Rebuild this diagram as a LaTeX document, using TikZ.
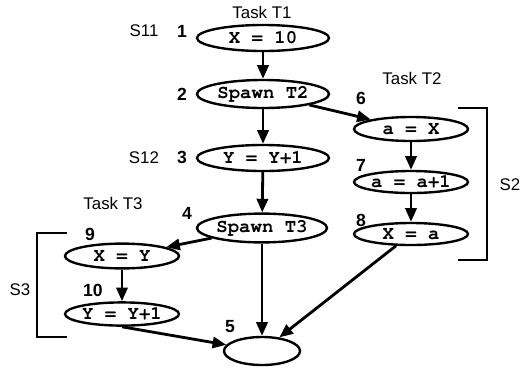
\documentclass[tikz,border=0pt]{standalone}
\usepackage{fontspec}
\setmainfont{Liberation Sans}
\setmonofont{TeX Gyre Cursor}
\usetikzlibrary{shapes.geometric,arrows.meta}
\begin{document}
\begin{tikzpicture}[
    x=0.025cm, y=-0.025cm,
    stmt/.style={ellipse, draw, line width=1.7pt, inner sep=0pt, minimum width=2.85cm, minimum height=0.6cm, font=\fontsize{13.5}{13.5}\selectfont\ttfamily\bfseries},
    num/.style={font=\fontsize{12.5}{12.5}\selectfont\bfseries},
    lbl/.style={font=\fontsize{12}{12}\selectfont},
    flow/.style={line width=2pt, -{Triangle[length=0.34cm, width=0.28cm]}},
    brack/.style={line width=2pt}
]
\useasboundingbox (0,0) rectangle (532,370);

% Task T1
\node[lbl] (t1) at (262,12) {Task T1};
\node[stmt, minimum width=3.3cm, minimum height=0.65cm] (n1) at (263,38) {X = 10};
\node[stmt, minimum width=3.3cm, minimum height=0.7cm] (n2) at (263,94) {Spawn T2};
\node[stmt, minimum width=3.3cm, minimum height=0.65cm] (n3) at (263,158) {Y = Y+1};
\node[stmt, minimum width=3.25cm, minimum height=0.72cm] (n4) at (262,228) {Spawn T3};
\node[stmt, minimum width=1.9cm, minimum height=0.7cm] (n5) at (262,351) {};

% Task T2
\node[lbl] (t2) at (412,78) {Task T2};
\node[stmt] (n6) at (411,129) {a = X};
\node[stmt, minimum height=0.55cm] (n7) at (411,182) {a = a+1};
\node[stmt, minimum height=0.55cm] (n8) at (411,234) {X = a};

% Task T3
\node[lbl] (t3) at (113,203) {Task T3};
\node[stmt, minimum height=0.62cm] (n9) at (122,256) {X = Y};
\node[stmt, minimum height=0.58cm] (n10) at (122,314) {Y = Y+1};

% Statement numbers
\node[num] (l1) at (182,31) {1};
\node[num] (l2) at (182,94) {2};
\node[num] (l3) at (182,157) {3};
\node[num] (l4) at (187,213) {4};
\node[num] (l5) at (230,327) {5};
\node[num] (l6) at (361,98) {6};
\node[num] (l7) at (361,165) {7};
\node[num] (l8) at (361,220) {8};
\node[num] (l9) at (90,234) {9};
\node[num] (l10) at (93,290) {10};

% Statement groups
\node[lbl] (s11) at (144,31) {S11};
\node[lbl] (s12) at (144,158) {S12};
\node[lbl] (s2) at (510,185) {S2};
\node[lbl] (s3) at (20,290) {S3};
\draw[brack] (458,108) -- (487,108) -- (487,260) -- (458,260);
\draw[brack] (67,233) -- (37,233) -- (37,337) -- (67,337);

% Edges
\draw[flow] (n1) -- (n2);
\draw[flow] (n2) -- (n3);
\draw[flow] (n2) -- (n6);
\draw[flow] (n3) -- (n4);
\draw[flow] (n4) -- (n9);
\draw[flow] (n4) -- (n5);
\draw[flow] (n6) -- (n7);
\draw[flow] (n7) -- (n8);
\draw[flow] (n8) -- (n5);
\draw[flow] (n9) -- (n10);
\draw[flow] (n10.south) -- (n5);
\end{tikzpicture}
\end{document}
